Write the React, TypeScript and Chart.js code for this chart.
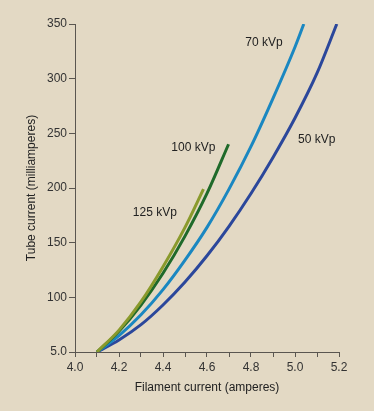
import React, { useEffect, useRef } from "react";
import { Chart, registerables } from "chart.js";

Chart.register(...registerables);

// Filament current (amperes) sample positions and tube current (mA)
const x125 = [4.1, 4.2, 4.3, 4.4, 4.5, 4.584];
const y125 = [50, 70, 96, 128, 164, 199];

const x100 = [4.1, 4.2, 4.3, 4.4, 4.5, 4.6, 4.698];
const y100 = [50, 69, 93, 122, 156, 195, 240];

const x70 = [4.1, 4.2, 4.3, 4.4, 4.5, 4.6, 4.7, 4.8, 4.9, 5.0, 5.04];
const y70 = [50, 65, 84, 107, 134, 164, 199, 238, 282, 329, 350];

const x50 = [4.1, 4.2, 4.3, 4.4, 4.5, 4.6, 4.7, 4.8, 4.9, 5.0, 5.1, 5.19];
const y50 = [50, 61, 75, 93, 114, 138, 165, 195, 228, 264, 305, 350];

const seriesNames = ["125 kVp", "100 kVp", "70 kVp", "50 kVp"];
const seriesColors = ["#8a9a2c", "#1f6a2a", "#1a87c1", "#2b479b"];

// label anchors in data coordinates
const labelX = [4.363, 4.538, 4.859, 5.099];
const labelY = [177, 237, 333, 244];

const xTitle = "Filament current (amperes)";
const yTitle = "Tube current (milliamperes)";

const toPts = (xs: number[], ys: number[]) => xs.map((x, i) => ({ x, y: ys[i] }));

export default function App() {
  const ref = useRef<HTMLCanvasElement>(null);
  useEffect(() => {
    document.body.style.margin = "0";
    document.body.style.background = "#e3d9c4";
    const font = "Liberation Sans, Arial, Helvetica, sans-serif";
    const labelPlugin = {
      id: "seriesLabels",
      afterDatasetsDraw(chart: any) {
        const { ctx, scales } = chart;
        ctx.save();
        ctx.fillStyle = "#222";
        ctx.font = `12px ${font}`;
        ctx.textAlign = "center";
        ctx.textBaseline = "middle";
        seriesNames.forEach((n, i) => {
          ctx.fillText(n, scales.x.getPixelForValue(labelX[i]), scales.y.getPixelForValue(labelY[i]));
        });
        ctx.restore();
      },
    };
    const all = [toPts(x125, y125), toPts(x100, y100), toPts(x70, y70), toPts(x50, y50)];
    const chart = new Chart(ref.current!, {
      type: "line",
      data: {
        datasets: all.map((d, i) => ({
          label: seriesNames[i],
          data: d,
          borderColor: seriesColors[i],
          backgroundColor: seriesColors[i],
          borderWidth: 3,
          pointRadius: 0,
          fill: false,
          cubicInterpolationMode: "monotone" as const,
        })),
      },
      options: {
        responsive: false,
        animation: false,
        layout: { padding: { top: 24, right: 35, left: 0, bottom: 0 } },
        plugins: { legend: { display: false }, tooltip: { enabled: false } },
        scales: {
          x: {
            type: "linear",
            min: 4.0,
            max: 5.2,
            afterFit: (s: any) => { s.height = 59; },
            border: { display: true, color: "#5a5650", width: 1 },
            grid: { display: true, drawOnChartArea: false, drawTicks: true, tickLength: 5, color: "#5a5650" },
            ticks: {
              stepSize: 0.1,
              autoSkip: false,
              maxRotation: 0,
              padding: 3,
              color: "#333",
              font: { family: font, size: 12 },
              callback: (v: any) => {
                const r = Math.round(Number(v) * 10);
                return r % 2 === 0 ? (r / 10).toFixed(1) : "";
              },
            },
            title: {
              display: true,
              text: xTitle,
              color: "#222",
              font: { family: font, size: 12 },
              padding: { top: 0, bottom: 16 },
            },
          },
          y: {
            type: "linear",
            min: 50,
            max: 350,
            afterFit: (s: any) => { s.width = 75; },
            border: { display: true, color: "#5a5650", width: 1 },
            grid: { display: true, drawOnChartArea: false, drawTicks: true, tickLength: 6, color: "#5a5650" },
            ticks: {
              stepSize: 50,
              padding: 2,
              color: "#333",
              font: { family: font, size: 12 },
              callback: (v: any) => (Number(v) === 50 ? "5.0" : String(v)),
            },
            title: {
              display: true,
              text: yTitle,
              color: "#222",
              font: { family: font, size: 12 },
              padding: { top: 24, bottom: 0 },
            },
          },
        },
      },
      plugins: [labelPlugin],
    });
    return () => chart.destroy();
  }, []);
  return (
    <div style={{ width: 374, height: 411, background: "#e3d9c4" }}>
      <canvas ref={ref} width={374} height={411} style={{ display: "block" }} />
    </div>
  );
}
